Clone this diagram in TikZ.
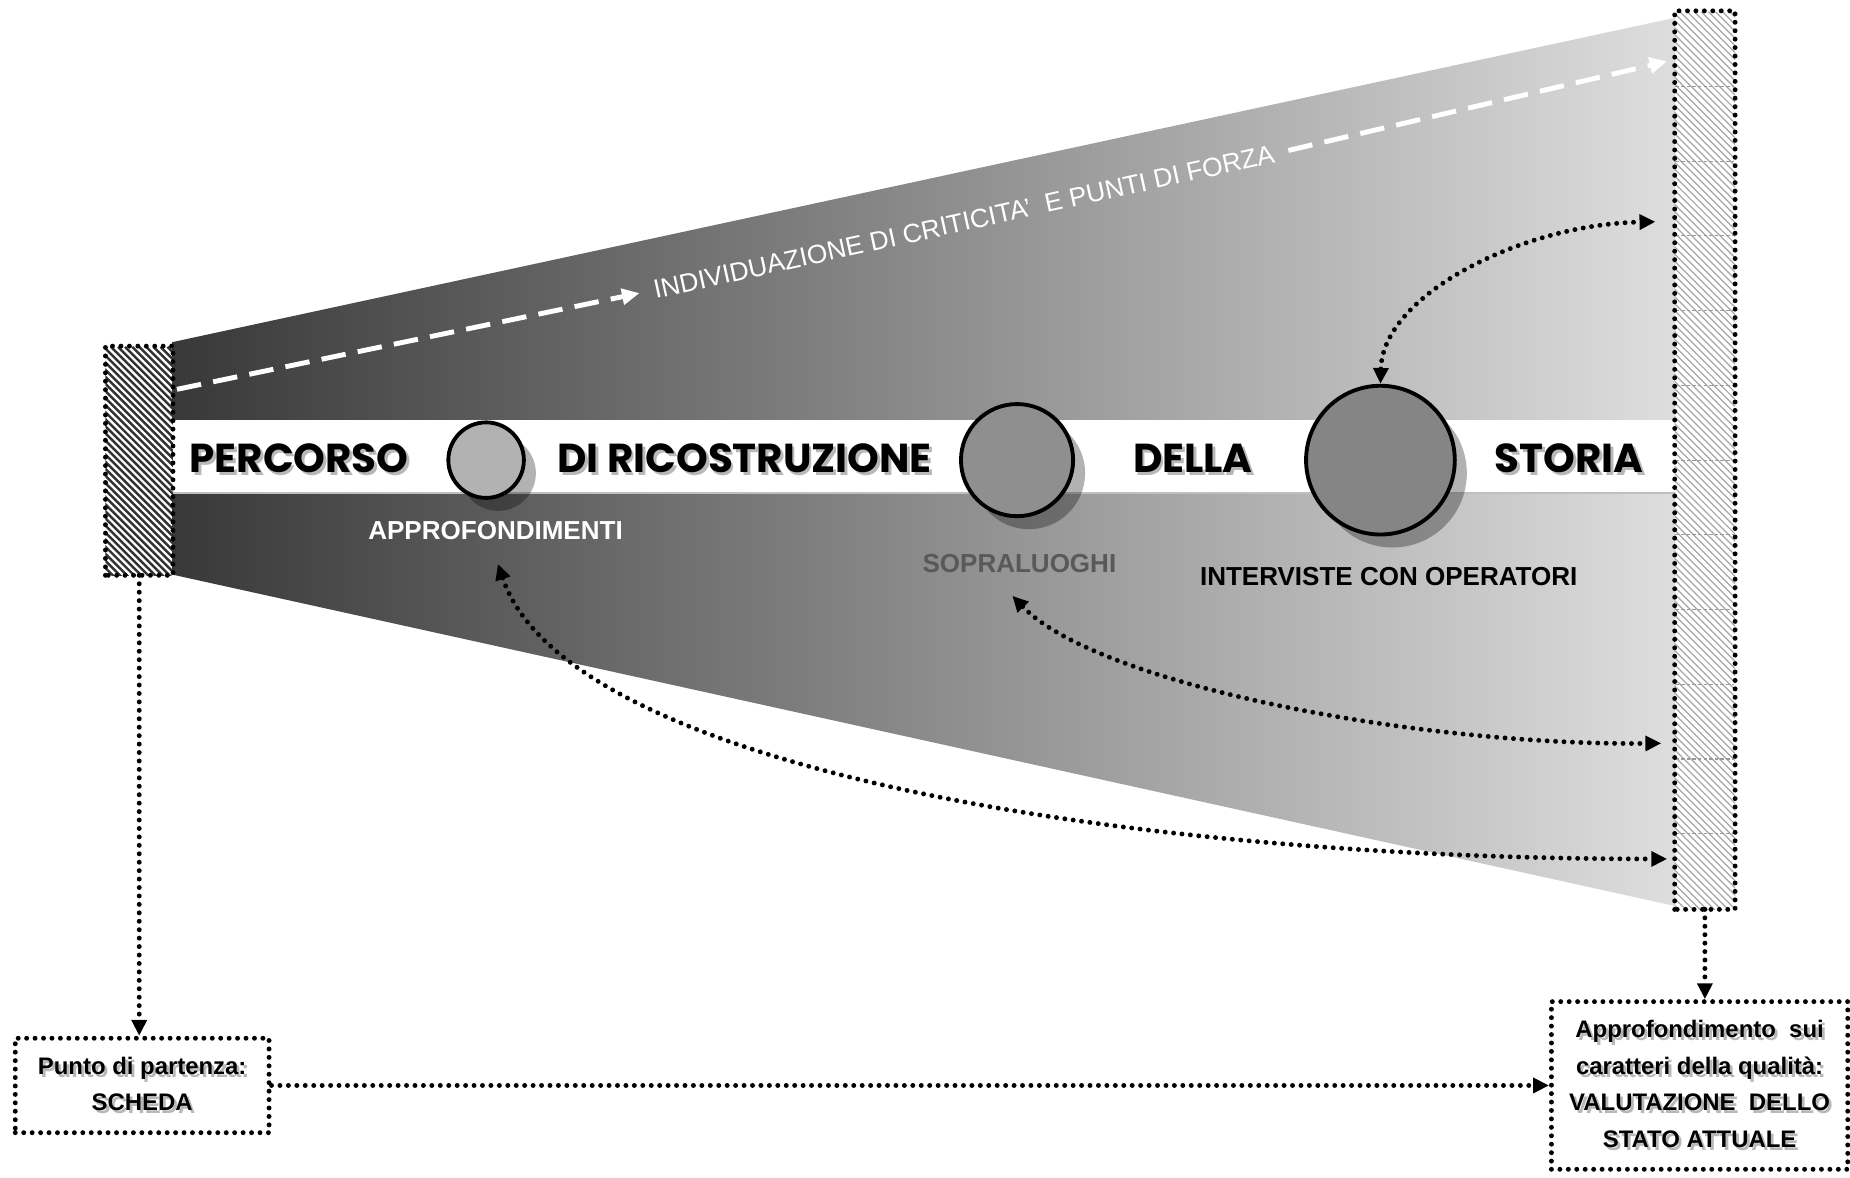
\documentclass[tikz,border=0pt]{standalone}
\usepackage{fontspec}
\setmainfont{Liberation Sans}
\newfontfamily\bandfont{Poppins}
\usetikzlibrary{arrows.meta,shadows,positioning}
\newcommand\shadetext[1]{\makebox[0pt][l]{\hspace{0.8pt}\raisebox{-0.8pt}{\color{black!28}#1}}#1}
\tikzset{
  dotline/.style={line width=1.4pt,dash pattern=on 0pt off 2.4pt,line cap=round},
  dashwhite/.style={white,line width=1.4pt,dash pattern=on 7pt off 3.5pt,
    -{Triangle[length=5pt,width=4.5pt]}},
  bandtxt/.style={font=\bandfont\bfseries\fontsize{11.5}{12}\selectfont,inner sep=0pt},
  sublbl/.style={font=\bfseries\fontsize{7.4}{8}\selectfont,inner sep=1pt},
  boxtxt/.style={draw,dotline,align=center,font=\bfseries\fontsize{6.8}{10.4}\selectfont},
  ball/.style={circle,draw,line width=1.1pt,inner sep=0pt,
    drop shadow={shadow xshift=1.2mm,shadow yshift=-1.3mm,fill=black,opacity=0.3}},
  barst/.style={inner sep=0pt},
  hatchL/.style={black!80,line width=0.7pt},
  hatchR/.style={black!35,line width=0.35pt}
}
\begin{document}
\begin{tikzpicture}[x=0.0118cm,y=-0.0118cm,>={Triangle[length=4.5pt,width=4.2pt]},line join=round]
\useasboundingbox (0,0) rectangle (1568,998);
% fan
\shade[left color=black!78,middle color=black!40,right color=black!13]
  (146,290) -- (1420,15) -- (1420,768) -- (146,487) -- cycle;
% band
\fill[white] (146,356) rectangle (1420,418);
\draw[black!25,line width=0.6pt] (146,418) -- (1420,418);
% bars
\node[barst,minimum width=0.661cm,minimum height=2.277cm] (lbar) at (118,390.5) {};
\node[barst,minimum width=0.59cm,minimum height=8.968cm] (rbar) at (1445,390) {};
\begin{scope}
  \clip (lbar.south west) rectangle (lbar.north east);
  \foreach \d in {-200,-194,...,60}
    \draw[hatchL] (90+\d,294) -- ++(200,200);
\end{scope}
\begin{scope}
  \clip (rbar.south west) rectangle (rbar.north east);
  \foreach \d in {-770,-764,...,60}
    \draw[hatchR] (1420+\d,10) -- ++(800,800);
\end{scope}
\foreach \k in {1,...,11}
  \draw[black!40,line width=0.3pt,dash pattern=on 1pt off 0.6pt]
    (1420,{10+\k*63.33}) -- (1470,{10+\k*63.33});
\draw[dotline] (lbar.south west) rectangle (lbar.north east);
\draw[dotline] (rbar.south west) rectangle (rbar.north east);
% band texts and circles
\node[bandtxt] (perc) at (253.5,390) {\shadetext{PERCORSO}};
\node[ball,fill=black!30,minimum size=0.755cm] (c1) at (412,390) {};
\node[bandtxt] (ricos) at (631,390) {\shadetext{DI RICOSTRUZIONE}};
\node[ball,fill=black!44,minimum size=1.121cm] (c2) at (862,390) {};
\node[bandtxt] (della) at (1011,390) {\shadetext{DELLA}};
\node[ball,fill=black!48,minimum size=1.487cm] (c3) at (1170,390) {};
\node[bandtxt] (storia) at (1330,390) {\shadetext{STORIA}};
% labels
\node[sublbl,white] (approf) at (420,450) {APPROFONDIMENTI};
\node[sublbl,black!65] (sopra) at (864,478) {SOPRALUOGHI};
\node[sublbl] (interv) at (1177,489) {INTERVISTE CON OPERATORI};
% upper dashed arrow
\coordinate (ds) at (150,330);
\coordinate (de) at (1413,52);
\node[white,rotate=12.4,inner sep=4pt,font=\fontsize{7.5}{8}\selectfont] (indiv) at (817,188)
  {INDIVIDUAZIONE DI CRITICITA'\ \ E PUNTI DI FORZA};
\draw[dashwhite] (ds) -- (indiv.west);
\draw[dashwhite] (indiv.east) -- (de);
% boxes
\node[boxtxt,minimum width=2.537cm,minimum height=0.944cm] (start) at (120.5,920)
  {\shadetext{Punto di partenza:}\\\shadetext{SCHEDA}};
\node[boxtxt,minimum width=2.962cm,minimum height=1.676cm] (eval) at (1440.5,920)
  {\shadetext{Approfondimento\ \ sui}\\\shadetext{caratteri della qualità:}\\
   \shadetext{VALUTAZIONE\ \ DELLO}\\\shadetext{STATO ATTUALE}};
% connectors
\coordinate (s1) at (422,478);
\coordinate (s2) at (858,505);
\coordinate (t1) at (1403,188);
\coordinate (t2) at (1408,630);
\coordinate (t3) at (1413,728);
\draw[dotline,<->] (c3.north) .. controls (1172,250) and (1290,190) .. (t1);
\draw[dotline,<->] (s2) .. controls (930,580) and (1200,632) .. (t2);
\draw[dotline,<->] (s1) .. controls (480,650) and (950,728) .. (t3);
\draw[dotline,->] (lbar.south) -- (lbar.south |- start.north);
\draw[dotline,->] (rbar.south) -- (rbar.south |- eval.north);
\draw[dotline,->] (start.east) -- (eval.west);
\end{tikzpicture}
\end{document}
